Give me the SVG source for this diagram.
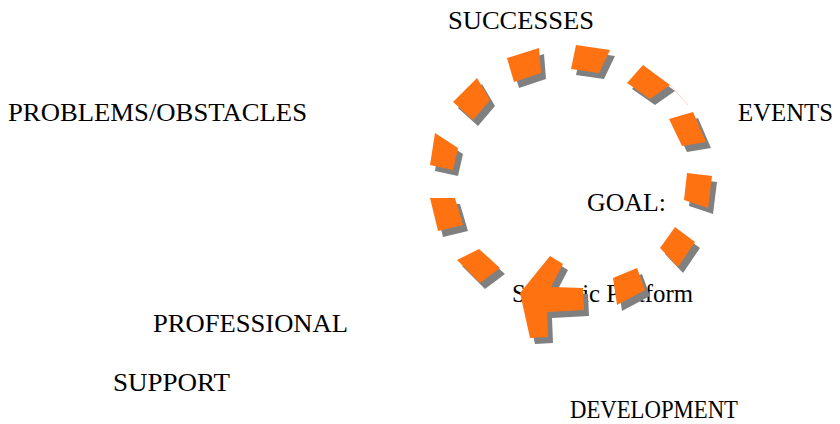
<svg xmlns="http://www.w3.org/2000/svg" xmlns:xlink="http://www.w3.org/1999/xlink" width="840" height="424" viewBox="0 0 840 424">
  <style>
    .lbl { font-family: "Liberation Serif", "Times New Roman", serif; font-size: 26px; fill: #000; }
    .ring { fill: #FF7212; }
    .ring-shadow { fill: #808080; }
  </style>
  <defs>
    <!-- dashed cycle arrow: eleven dashes plus the arrowhead -->
    <path id="cycle" d="
      M507,58 L539,48 L541,73 L514,82 Z
      M453,102 L477,78 L490,100 L473,120 Z
      M435,133 L458,148 L453,170 L430,165 Z
      M576,45 L610,50 L599,73 L571,69 Z
      M643,65 L670,85 L650,99 L627,83 Z
      M669,119 L693,112 L706,142 L682,146 Z
      M430,198 L455,198 L463,225 L438,231 Z
      M457,260 L479,249 L500,268 L480,283 Z
      M687,173 L712,176 L708,208 L684,200 Z
      M660,248 L675,227 L695,242 L678,267 Z
      M613,278 L637,268 L645,290 L617,305 Z
      M550,256 L563,264 L551,287 L583,288 L584,310 L547,312 L548,337 L530,338 L520,293 Z"/>
  </defs>

  <g id="labels">
    <g id="successes"><text class="lbl" x="448" y="29" textLength="146" lengthAdjust="spacingAndGlyphs">SUCCESSES</text></g>
    <g id="problems"><text class="lbl" x="8" y="121" textLength="299" lengthAdjust="spacingAndGlyphs">PROBLEMS/OBSTACLES</text></g>
    <g id="events"><text class="lbl" x="738" y="121" textLength="95" lengthAdjust="spacingAndGlyphs">EVENTS</text></g>
    <g id="goal"><text class="lbl" x="587" y="211" textLength="79" lengthAdjust="spacingAndGlyphs">GOAL:</text></g>
    <g id="platform"><text class="lbl" x="512" y="302" textLength="181" lengthAdjust="spacingAndGlyphs">Strategic Platform</text></g>
    <g id="professional"><text class="lbl" x="153" y="332" textLength="195" lengthAdjust="spacingAndGlyphs">PROFESSIONAL</text></g>
    <g id="support"><text class="lbl" x="113" y="391" textLength="117" lengthAdjust="spacingAndGlyphs">SUPPORT</text></g>
    <g id="development"><text class="lbl" x="570" y="418" textLength="168" lengthAdjust="spacingAndGlyphs">DEVELOPMENT</text></g>
  </g>

  <g id="connectors">
    <use xlink:href="#cycle" class="ring-shadow" transform="translate(5,6)"/>
    <use xlink:href="#cycle" class="ring"/>
    <line x1="670" y1="85" x2="688" y2="105" stroke="#FFB080" stroke-width="1" opacity="0.5"/>
  </g>
</svg>
